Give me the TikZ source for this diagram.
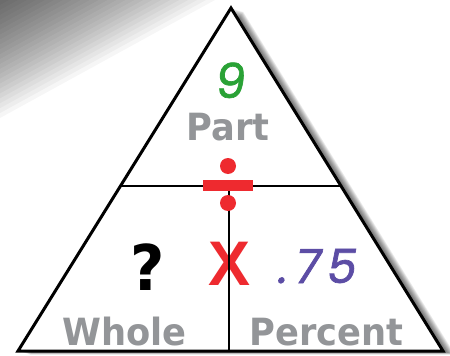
\documentclass[tikz,border=0pt]{standalone}
\usepackage{fontspec}
\usetikzlibrary{calc}
\newfontfamily\wordfont{DejaVu Sans}[FakeStretch=0.94]
\newfontfamily\handfont{Poppins}[FakeSlant=0.12, FakeBold=1.4]
\newfontfamily\markfont{Poppins}[FakeSlant=0.2, FakeBold=1.4, LetterSpace=14]
\newfontfamily\xfont{Liberation Sans}
\definecolor{wordgray}{HTML}{939598}
\definecolor{ninegreen}{HTML}{2AA236}
\definecolor{signred}{HTML}{EE2A2F}
\definecolor{decpurple}{HTML}{5C4DA5}
\begin{document}
\begin{tikzpicture}[x=1pt,y=-1pt,
    word/.style={font=\wordfont\bfseries\fontsize{37.5}{38}\selectfont, text=wordgray, inner sep=0pt, anchor=base},
    dot/.style={circle, fill=signred, inner sep=0pt, minimum size=16pt}]
  \useasboundingbox (0,0) rectangle (450,356);

  % soft shadow in the upper left corner
  \foreach \s in {1,...,24}
    \fill[black, opacity=0.034] (0,0) -- (215*\s/24,0) -- (0,118*\s/24) -- cycle;

  % drop shadow of the triangle
  \foreach \d in {1,...,12}
    \fill[black, opacity=0.07, shift={(\d,0.3*\d)}] (231,8) -- (18,351) -- (443,351) -- cycle;

  \coordinate (apex) at (231,8);
  \coordinate (bl) at (18,351);
  \coordinate (br) at (443,351);
  \draw[fill=white, line width=3pt, line join=miter] (apex) -- (bl) -- (br) -- cycle;

  % texts
  \node[inner sep=0pt, anchor=base, text=ninegreen, font=\handfont\fontsize{48}{48}\selectfont] (nine) at (229,98) {9};
  \node[word] (part) at (228,140) {Part};
  \node[word] (whole) at (124.5,345) {Whole};
  \node[word] (percent) at (326.5,345) {Percent};
  \node[inner sep=0pt, anchor=base, font=\wordfont\bfseries\fontsize{63}{63}\selectfont] (query) at (147.5,290) {?};
  \node[inner sep=0pt, anchor=base, text=signred, font=\xfont\bfseries\fontsize{63}{63}\selectfont] (times) at (229.5,285) {X};
  \node[inner sep=0pt, anchor=base, text=decpurple, font=\markfont\fontsize{47}{47}\selectfont] (dec) at (315,283) {.75};

  % dividing lines
  \coordinate (hl) at ($(apex)!0.519!(bl)$);
  \coordinate (hr) at ($(apex)!0.519!(br)$);
  \coordinate (mid) at (229,186);
  \coordinate (foot) at (229,351);
  \draw[line width=1.5pt] (hl) -- (hr);
  \draw[line width=1.5pt] (mid) -- (foot);

  % division sign
  \node[fill=signred, inner sep=0pt, minimum width=50pt, minimum height=11pt] (bar) at (228,185.5) {};
  \node[dot] (dottop) at (228,166) {};
  \node[dot] (dotbottom) at (228,203) {};
\end{tikzpicture}
\end{document}
